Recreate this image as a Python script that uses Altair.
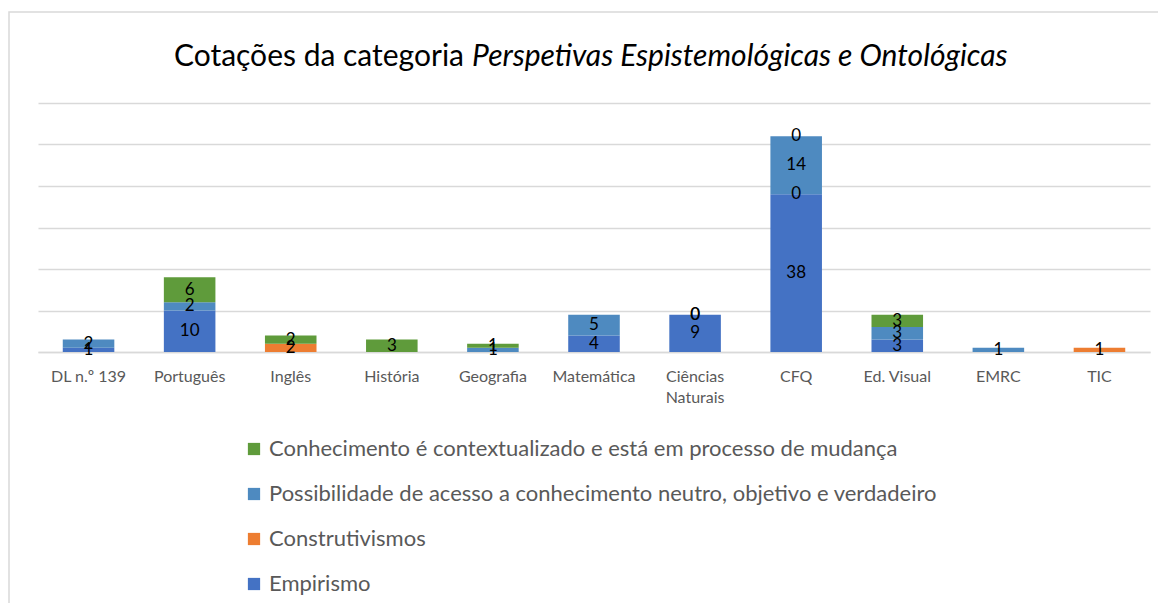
import altair as alt
import pandas as pd

categories = ["DL n.º 139", "Português", "Inglês", "História", "Geografia", "Matemática",
              "Ciências Naturais", "CFQ", "Ed. Visual", "EMRC", "TIC"]
series = ["Empirismo", "Construtivismos",
          "Possibilidade de acesso a conhecimento neutro, objetivo e verdadeiro",
          "Conhecimento é contextualizado e está em processo de mudança"]
empirismo = [1, 10, None, None, None, 4, 9, 38, 3, None, None]
construtivismos = [None, None, 2, None, None, None, None, 0, None, None, 1]
possibilidade = [2, 2, None, None, 1, 5, 0, 14, 3, 1, None]
conhecimento = [None, 6, 2, 3, 1, None, 0, 0, 3, None, None]
colors = ["#4472C4", "#ED7D31", "#4E8AC0", "#5F9B3B"]
title_plain = "Cotações da categoria"
title_italic = "Perspetivas Espistemológicas e Ontológicas"

rows = []
for si, (name, vals) in enumerate(zip(series, [empirismo, construtivismos, possibilidade, conhecimento])):
    for c, v in zip(categories, vals):
        if v is not None:
            rows.append({"cat": c, "serie": name, "value": v, "ord": si})
df = pd.DataFrame(rows)

W, H = 1112, 249
FONT = "Lato"

legend_domain = [series[3], series[2], series[1], series[0]]
legend_range = [colors[3], colors[2], colors[1], colors[0]]

xenc = alt.X("cat:N", sort=categories, title=None,
             scale=alt.Scale(paddingInner=0.49, paddingOuter=0.245),
             axis=alt.Axis(labelAngle=0, labelFontSize=16, labelColor="#595959", labelFont=FONT,
                           ticks=False, domainColor="#D9D9D9", domainWidth=1.5, labelPadding=16,
                           labelLineHeight=21,
                           labelExpr="datum.label == 'Ciências Naturais' ? ['Ciências', 'Naturais'] : datum.label"))

base = alt.Chart(df)

bars = base.mark_bar().encode(
    x=xenc,
    y=alt.Y("value:Q", stack="zero", title=None,
            scale=alt.Scale(domain=[0, 60], nice=False),
            axis=alt.Axis(values=[0, 10, 20, 30, 40, 50, 60], labels=False, ticks=False, domain=False,
                          gridColor="#D9D9D9", gridWidth=1.5)),
    color=alt.Color("serie:N", scale=alt.Scale(domain=legend_domain, range=legend_range),
                    legend=alt.Legend(title=None, orient="none", legendX=205, legendY=335,
                                      labelFontSize=22, labelFont=FONT, labelColor="#595959",
                                      symbolType="square", symbolSize=150, symbolStrokeWidth=0,
                                      rowPadding=23, labelLimit=900, symbolOpacity=1)),
    order=alt.Order("ord:Q"),
)

labels = base.transform_window(
    cum="sum(value)", groupby=["cat"], sort=[alt.SortField("ord")], frame=[None, 0]
).transform_calculate(
    mid="datum.cum - datum.value / 2"
).mark_text(fontSize=17, font=FONT, color="black", baseline="middle").encode(
    x=alt.X("cat:N", sort=categories),
    y=alt.Y("mid:Q"),
    text=alt.Text("value:Q"),
)

one = pd.DataFrame({"a": [0]})
border = alt.Chart(one).mark_rect(fill=None, stroke="#D9D9D9", strokeWidth=1.5).encode(
    x=alt.value(-29), x2=alt.value(1200), y=alt.value(-91), y2=alt.value(600))

t1 = alt.Chart(one).mark_text(align="right", baseline="middle", fontSize=30, font=FONT,
                              color="black").encode(
    x=alt.value(426), y=alt.value(-46), text=alt.value(title_plain))
t2 = alt.Chart(one).mark_text(align="left", baseline="middle", fontSize=30, font=FONT,
                              fontStyle="italic", color="black").encode(
    x=alt.value(434), y=alt.value(-46), text=alt.value(title_italic))

chart = alt.layer(border, bars, labels, t1, t2).properties(
    width=W, height=H,
    autosize=alt.AutoSizeParams(type="none"),
    padding={"left": 30, "top": 95, "right": 8, "bottom": 251},
).configure(background="white").configure_view(stroke=None)

chart.save("out.html", embed_options={"renderer": "svg", "actions": False})
